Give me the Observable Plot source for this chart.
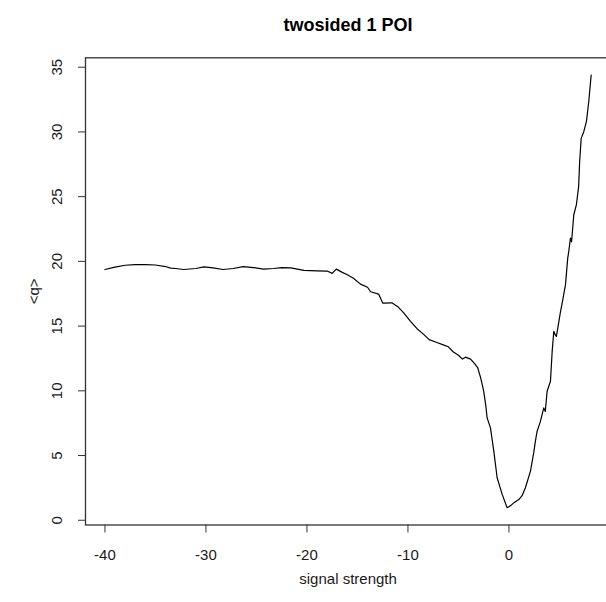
<!DOCTYPE html>
<html>
<head>
<meta charset="utf-8">
<script src="https://cdn.jsdelivr.net/npm/d3@7"></script>
<script src="https://cdn.jsdelivr.net/npm/@observablehq/plot@0.6"></script>
<style>
  html, body { margin: 0; padding: 0; background: #fff; overflow: hidden; }
  #chart svg { display: block; }
</style>
</head>
<body>
<div id="chart"></div>
<script>
// ---- data ----
const title = "twosided 1 POI";
const xLabel = "signal strength";
const yLabel = "<q>";
const xTicks = [-40, -30, -20, -10, 0];
const yTicks = [0, 5, 10, 15, 20, 25, 30, 35];

const signal = [-40, -39, -38, -37, -36, -35, -34, -33.5, -33, -32.2, -31, -30.2, -29.3, -28.3, -27.3, -26.3, -25.3, -24.3, -23.3, -22.5,
  -21.6, -20.3, -19, -18, -17.5, -17.1, -16.5, -16, -15.4, -14.7, -14, -13.7, -12.9, -12.5, -11.6, -11, -10.4, -9.75, -9.1, -8.5,
  -7.9, -7.2, -6.5, -6.0, -5.5, -5.0, -4.6, -4.3, -3.8, -3.4, -3.1, -2.8, -2.5, -2.3, -2.16, -1.83, -1.5, -1.17, -0.67, -0.18,
  0.2, 0.5, 1.0, 1.3, 1.63, 2.13, 2.45, 2.62, 2.79, 3.1, 3.45, 3.6, 3.78, 4.11, 4.28, 4.44, 4.6, 4.7, 5.1, 5.27,
  5.6, 5.82, 5.92, 6.09, 6.2, 6.42, 6.68, 6.9, 7.0, 7.15, 7.4, 7.67, 7.9, 8.14];

const meanQ = [19.37, 19.55, 19.7, 19.75, 19.75, 19.72, 19.6, 19.48, 19.45, 19.37, 19.45, 19.58, 19.5, 19.37, 19.45, 19.6, 19.52, 19.4, 19.45, 19.52,
  19.5, 19.3, 19.27, 19.25, 19.07, 19.4, 19.15, 18.97, 18.7, 18.24, 18.0, 17.65, 17.47, 16.78, 16.8, 16.5, 16.0, 15.37, 14.8, 14.4,
  13.95, 13.75, 13.55, 13.4, 13.0, 12.75, 12.45, 12.6, 12.45, 12.1, 11.8, 11.0, 9.97, 8.9, 7.91, 7.14, 5.34, 3.28, 2.0, 0.97,
  1.15, 1.36, 1.62, 1.9, 2.51, 3.8, 5.2, 6.11, 6.88, 7.6, 8.68, 8.4, 9.97, 10.74, 13.05, 14.6, 14.3, 14.2, 16.1, 16.78,
  18.2, 20.25, 20.76, 21.8, 21.5, 23.6, 24.39, 25.78, 27.7, 29.5, 30.0, 30.8, 32.33, 34.39];

// ---- build table ----
const rows = signal.map((s, i) => ({signal: s, q: meanQ[i]}));

// R-style axis extension (4% on each side)
function rDomain(vals) {
  const [lo, hi] = d3.extent(vals);
  const e = (hi - lo) * 0.04;
  return [lo - e, hi + e];
}
const xDom = rDomain(signal);
const yDom = rDomain(meanQ);

const W = 606, H = 602;
const mLeft = 85, mTop = 57.3, mBottom = 77.5;
const pxPerUnitX = 10.1;
const mRight = W - (mLeft + (xDom[1] - xDom[0]) * pxPerUnitX);

const font = "'Liberation Sans', Arial, Helvetica, sans-serif";
const ink = "#1a1a1a";

const chart = Plot.plot({
  width: W,
  height: H,
  marginLeft: mLeft,
  marginRight: mRight,
  marginTop: mTop,
  marginBottom: mBottom,
  style: {fontFamily: font, color: ink, background: "#fff", overflow: "hidden"},
  x: {domain: xDom},
  y: {domain: yDom},
  marks: [
    Plot.frame({stroke: "#333", strokeWidth: 1.3}),
    Plot.axisX({ticks: xTicks, tickSize: 8, tickPadding: 16, fontSize: 15, label: null, stroke: "#333",
      tickFormat: d => String(d)}),
    Plot.axisY({ticks: yTicks, tickSize: 7, tickFormat: () => "", label: null, stroke: "#333"}),
    Plot.text(yTicks, {y: d => d, text: d => String(d), frameAnchor: "left", dx: -23.5, rotate: -90,
      textAnchor: "middle", lineAnchor: "bottom", fontSize: 15, fill: ink}),
    Plot.line(rows, {x: "signal", y: "q", stroke: "#000", strokeWidth: 1.2}),
    Plot.text([title], {text: d => d, frameAnchor: "top", dy: -26.5, lineAnchor: "bottom",
      fontSize: 18, fontWeight: "bold", fill: "#000"}),
    Plot.text([xLabel], {text: d => d, frameAnchor: "bottom", dy: 58.5, lineAnchor: "bottom",
      fontSize: 15, fill: ink}),
    Plot.text([yLabel], {text: d => d, frameAnchor: "left", dx: -47, rotate: -90,
      textAnchor: "middle", lineAnchor: "bottom", fontSize: 15, fill: ink})
  ]
});
document.getElementById("chart").appendChild(chart);
</script>
</body>
</html>
